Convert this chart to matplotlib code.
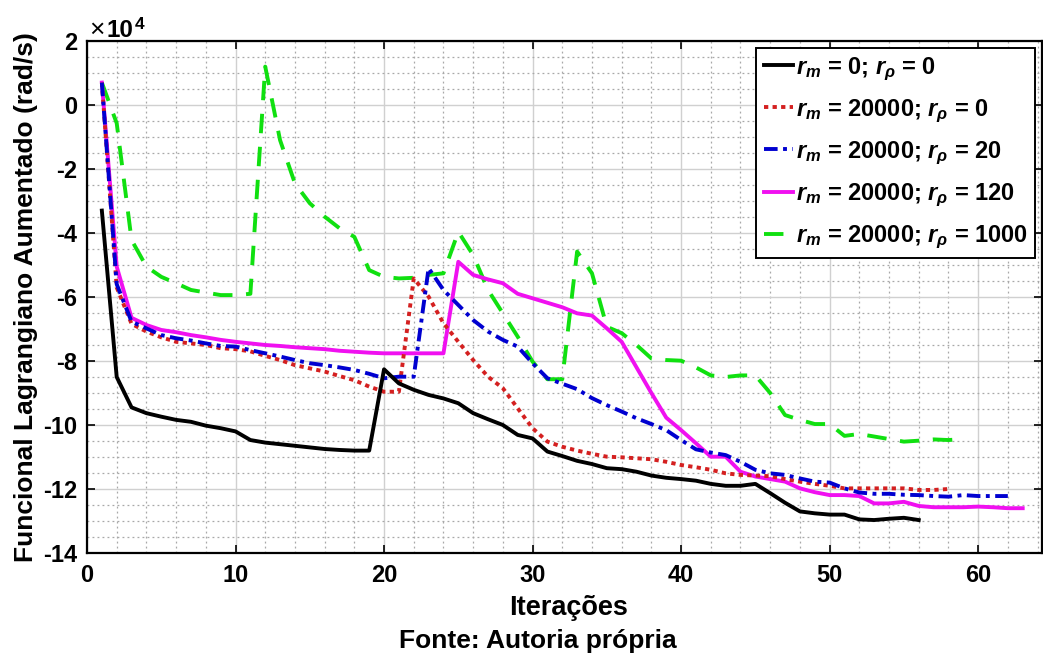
import matplotlib
matplotlib.use("Agg")
import matplotlib.pyplot as plt
from matplotlib.ticker import MultipleLocator

plt.rcParams['font.family'] = ['Liberation Sans', 'DejaVu Sans']
plt.rcParams['mathtext.fontset'] = 'custom'
plt.rcParams['mathtext.it'] = 'Liberation Sans:italic:bold'
plt.rcParams['mathtext.rm'] = 'Liberation Sans:bold'
plt.rcParams['mathtext.bf'] = 'Liberation Sans:bold'

# values in units of 1e4 rad/s
y_black = [-3.3, -8.5, -9.45, -9.63, -9.74, -9.84, -9.9, -10.02, -10.1, -10.2,
           -10.47, -10.55, -10.6, -10.65, -10.7, -10.75, -10.78, -10.8, -10.8, -8.26,
           -8.7, -8.9, -9.06, -9.17, -9.32, -9.63, -9.82, -10.0, -10.31, -10.42,
           -10.83, -10.97, -11.12, -11.22, -11.35, -11.38, -11.46, -11.58, -11.65, -11.69,
           -11.74, -11.84, -11.9, -11.9, -11.84, -12.13, -12.43, -12.7, -12.76, -12.8,
           -12.8, -12.95, -12.97, -12.93, -12.9, -12.97]
y_red = [0.7, -5.7, -6.84, -7.08, -7.26, -7.4, -7.45, -7.5, -7.6, -7.63,
         -7.7, -7.84, -7.97, -8.13, -8.23, -8.33, -8.47, -8.6, -8.8, -8.96,
         -8.96, -5.42, -5.99, -6.82, -7.4, -7.97, -8.49, -8.85, -9.48, -10.1,
         -10.52, -10.68, -10.8, -10.9, -10.99, -11.01, -11.04, -11.07, -11.15, -11.25,
         -11.32, -11.4, -11.51, -11.56, -11.58, -11.6, -11.69, -11.77, -11.84, -11.9,
         -11.98, -11.98, -11.98, -11.98, -11.98, -12.03, -12.03, -12.0]
y_blue = [0.7, -5.6, -6.77, -6.98, -7.19, -7.29, -7.36, -7.45, -7.53, -7.55,
          -7.66, -7.76, -7.86, -7.97, -8.07, -8.13, -8.2, -8.28, -8.4, -8.54,
          -8.49, -8.49, -5.1, -5.78, -6.25, -6.72, -7.08, -7.34, -7.55, -8.07,
          -8.54, -8.71, -8.88, -9.16, -9.38, -9.58, -9.79, -9.97, -10.16, -10.47,
          -10.76, -10.86, -10.94, -11.15, -11.4, -11.51, -11.56, -11.67, -11.77, -11.8,
          -11.98, -12.11, -12.15, -12.15, -12.18, -12.19, -12.22, -12.24, -12.19, -12.22,
          -12.22, -12.22]
y_magenta = [0.7, -5.05, -6.65, -6.875, -7.03, -7.1, -7.19, -7.26, -7.34, -7.4,
             -7.45, -7.5, -7.53, -7.57, -7.6, -7.63, -7.68, -7.71, -7.74, -7.76,
             -7.76, -7.76, -7.76, -7.76, -4.9, -5.31, -5.45, -5.57, -5.9, -6.04,
             -6.18, -6.32, -6.51, -6.58, -6.98, -7.4, -8.2, -9.0, -9.77, -10.16,
             -10.57, -10.99, -10.99, -11.46, -11.61, -11.69, -11.77, -11.98, -12.1, -12.19,
             -12.19, -12.22, -12.45, -12.45, -12.4, -12.53, -12.57, -12.57, -12.57, -12.55,
             -12.57, -12.6, -12.6]
y_green = [0.7, -0.57, -4.22, -5.05, -5.37, -5.57, -5.78, -5.86, -5.94, -5.94,
           -5.9, 1.2, -1.1, -2.45, -3.07, -3.49, -3.85, -4.12, -5.16, -5.37,
           -5.42, -5.4, -5.31, -5.26, -3.96, -4.69, -5.78, -6.51, -7.24, -8.02,
           -8.57, -8.57, -4.58, -5.26, -6.93, -7.13, -7.5, -7.92, -7.97, -7.99,
           -8.2, -8.45, -8.5, -8.45, -8.45, -9.0, -9.69, -9.84, -9.97, -9.97,
           -10.34, -10.28, -10.36, -10.44, -10.52, -10.49, -10.45, -10.47, -10.44]

labels = [r"$r_m$ = 0; $r_\rho$ = 0",
          r"$r_m$ = 20000; $r_\rho$ = 0",
          r"$r_m$ = 20000; $r_\rho$ = 20",
          r"$r_m$ = 20000; $r_\rho$ = 120",
          r"$r_m$ = 20000; $r_\rho$ = 1000"]
x_ticks = [0, 10, 20, 30, 40, 50, 60]
y_ticks = [-14, -12, -10, -8, -6, -4, -2, 0, 2]

W, H = 1043, 655
fig = plt.figure(figsize=(W / 100, H / 100), dpi=100)
ax = fig.add_axes([87/W, 1-553/H, 955/W, 512/H])

def xs(n):
    return list(range(1, n + 1))

lw = 2.8
ax.plot(xs(len(y_black)), y_black, color='black', lw=lw, label=labels[0], zorder=5)
ax.plot(xs(len(y_red)), y_red, color='#d42020', lw=lw, dashes=(1.1, 1.1), label=labels[1], zorder=4)
ax.plot(xs(len(y_blue)), y_blue, color='#0000d0', lw=lw, dashes=(3.5, 1.4, 1.0, 1.4), label=labels[2], zorder=4)
ax.plot(xs(len(y_magenta)), y_magenta, color='#f010f0', lw=lw, label=labels[3], zorder=3)
ax.plot(xs(len(y_green)), y_green, color='#10e010', lw=lw, dashes=(5, 3.5), label=labels[4], zorder=2)

ax.set_xlim(0, 64.3)
ax.set_ylim(-14, 2)
ax.set_xticks(x_ticks)
ax.set_yticks(y_ticks)
ax.set_yticklabels([str(v) for v in y_ticks])
ax.xaxis.set_minor_locator(MultipleLocator(2))
ax.yaxis.set_minor_locator(MultipleLocator(0.5))
ax.grid(which='major', color='#d0d0d0', lw=1.0, ls='-', zorder=0)
ax.grid(which='minor', color='#a8a8a8', lw=0.9, ls=(0, (1.5, 2.5)), zorder=0)
ax.set_axisbelow(True)
ax.tick_params(which='major', direction='in', length=6, width=1.2, top=True, right=True,
               labelsize=17)
ax.tick_params(axis='x', which='major', pad=8)
ax.tick_params(axis='y', which='major', pad=7)
ax.tick_params(which='minor', length=0)
for lab in ax.get_xticklabels() + ax.get_yticklabels():
    lab.set_fontweight('bold')
for sp in ax.spines.values():
    sp.set_linewidth(1.6)

fig.text(26/W, 1-297/H, "Funcional Lagrangiano Aumentado (rad/s)", rotation=90,
         ha='center', va='center', fontsize=19, fontweight='bold')
fig.text(569/W, 1-615/H, "Iterações", ha='center', va='baseline',
         fontsize=19.5, fontweight='bold')
fig.text(537.5/W, 1-648/H, "Fonte: Autoria própria", ha='center', va='baseline',
         fontsize=19, fontweight='bold')
# axis exponent label
fig.text(89/W, 1-37/H, "×", ha='left', va='baseline', fontsize=19, fontweight='normal')
fig.text(106/W, 1-37/H, "10", ha='left', va='baseline', fontsize=17.5, fontweight='bold')
fig.text(135/W, 1-29/H, "4", ha='left', va='baseline', fontsize=12.5, fontweight='bold')

leg = ax.legend(loc='upper right', fontsize=17, handlelength=1.25, handletextpad=0.12,
                labelspacing=0.62, borderpad=0.3, frameon=True, fancybox=False,
                edgecolor='black', framealpha=1, borderaxespad=0.3)
leg.get_frame().set_linewidth(1.4)
for t in leg.get_texts():
    t.set_fontweight('bold')

fig.savefig("out.png", dpi=100)
